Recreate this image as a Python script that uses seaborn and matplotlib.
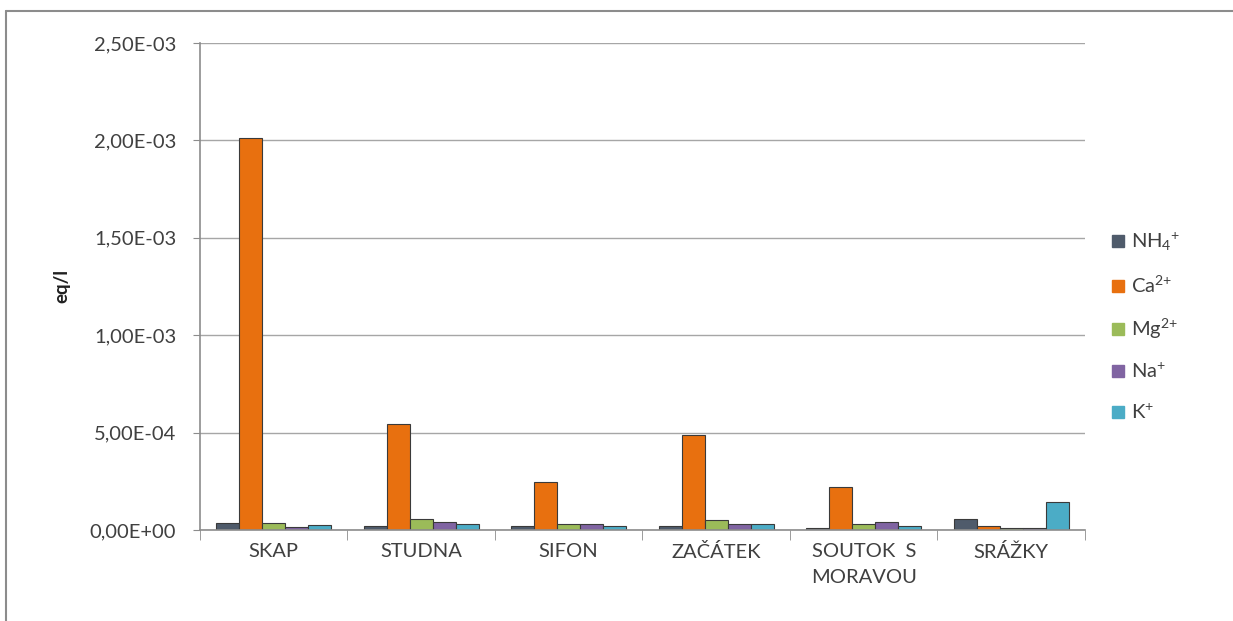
import matplotlib.pyplot as plt
import seaborn as sns
import pandas as pd
from matplotlib.lines import Line2D
from matplotlib.ticker import FuncFormatter, FixedLocator

# Données (eq/l)
lokality = ["SKAP", "STUDNA", "SIFON", "ZAČÁTEK", "SOUTOK  S\nMORAVOU", "SRÁŽKY"]
ionty = ["NH$_4$$^{+}$", "Ca$^{2{+}}$", "Mg$^{2{+}}$", "Na$^{+}$", "K$^{+}$"]
nh4 = [3.6e-5, 2.0e-5, 2.1e-5, 2.0e-5, 1.2e-5, 5.8e-5]
ca = [2.01e-3, 5.45e-4, 2.45e-4, 4.9e-4, 2.2e-4, 2.0e-5]
mg = [3.5e-5, 5.8e-5, 2.9e-5, 5.1e-5, 3.1e-5, 8e-6]
na = [1.5e-5, 4.0e-5, 3.0e-5, 3.2e-5, 4.2e-5, 9e-6]
k = [2.5e-5, 3.1e-5, 2.2e-5, 3.2e-5, 2.2e-5, 1.45e-4]
barvy = ["#4f5b6b", "#e8700f", "#9bbb59", "#8064a2", "#4bacc6"]

rows = []
for ion, vals in zip(ionty, [nh4, ca, mg, na, k]):
    for lok, v in zip(lokality, vals):
        rows.append({"lokalita": lok, "ion": ion, "hodnota": v})
df = pd.DataFrame(rows)

sns.set_style("white")
plt.rcParams['font.family'] = ['Lato', 'DejaVu Sans']
plt.rcParams['mathtext.fontset'] = 'custom'
plt.rcParams['mathtext.rm'] = 'Lato'
plt.rcParams['mathtext.it'] = 'Lato'
plt.rcParams['mathtext.default'] = 'regular'

fig = plt.figure(figsize=(12.33, 6.21), dpi=100)
ax = fig.add_axes([0.162, 0.1465, 0.718, 0.7843])

sns.barplot(data=df, x="lokalita", y="hodnota", hue="ion", hue_order=ionty,
            order=lokality, palette=barvy, width=0.78, saturation=1, ax=ax,
            edgecolor="#3a3a3a", linewidth=0.8, legend=False)

ax.set_ylim(0, 2.5e-3)
ax.set_xlim(-0.5, 5.5)
ax.set_yticks([0, 5e-4, 1e-3, 1.5e-3, 2e-3, 2.5e-3])
ax.yaxis.set_major_formatter(FuncFormatter(
    lambda v, p: ("%.2E" % v).replace(".", ",")))
ax.yaxis.grid(True, color="#a6a6a6", linewidth=1)
ax.set_axisbelow(True)

for s in ["top", "right"]:
    ax.spines[s].set_visible(False)
for s in ["left", "bottom"]:
    ax.spines[s].set_color("#8c8c8c")
    ax.spines[s].set_linewidth(1.2)

ax.tick_params(axis="y", left=True, length=5, color="#8c8c8c",
               labelsize=14.5, labelcolor="#404040", pad=12)
ax.tick_params(axis="x", bottom=False, labelsize=14.5, labelcolor="#404040", pad=6)
ax.xaxis.set_minor_locator(FixedLocator([i - 0.5 for i in range(7)]))
ax.tick_params(axis="x", which="minor", bottom=True, length=7, color="#8c8c8c")
for t in ax.get_xticklabels():
    t.set_linespacing(1.65)
    t.set_verticalalignment("top")

ax.set_xlabel("")
ax.set_ylabel("eq/l", fontsize=13.5, fontweight="bold", color="#202020", labelpad=14)

handles = [Line2D([], [], marker="s", linestyle="", markersize=8.5,
                  markerfacecolor=c, markeredgecolor=c) for c in barvy]
ax.legend(handles, ionty, loc="center left", bbox_to_anchor=(1.02, 0.418),
          borderaxespad=0, frameon=False, fontsize=14.5, labelspacing=1.05,
          handlelength=0.7, handletextpad=0.3, labelcolor="#404040")

# cadre extérieur
fig.add_artist(Line2D([6 / 1233, 6 / 1233], [0, 1 - 11 / 621],
                      transform=fig.transFigure, color="#8c8c8c", linewidth=1.5))
fig.add_artist(Line2D([6 / 1233, 1], [1 - 11 / 621, 1 - 11 / 621],
                      transform=fig.transFigure, color="#8c8c8c", linewidth=1.5))

fig.savefig("out.png", dpi=100)
plt.close(fig)
